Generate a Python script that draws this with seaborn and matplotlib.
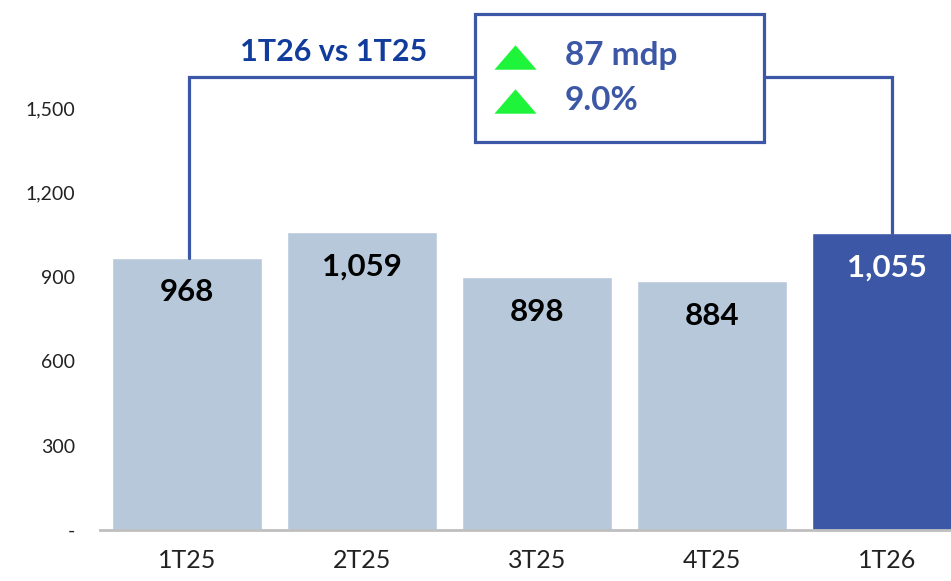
import pandas as pd
import numpy as np
import matplotlib.pyplot as plt
import seaborn as sns
from matplotlib.patches import Rectangle

# Data
quarters = ['1T25', '2T25', '3T25', '4T25', '1T26']
values = [968, 1059, 898, 884, 1055]
bar_colors = ['#B6C8DA', '#B6C8DA', '#B6C8DA', '#B6C8DA', '#3B57A6']
label_colors = ['black', 'black', 'black', 'black', 'white']
diff_text = '87 mdp'
pct_text = '9.0%'
compare_text = '1T26 vs 1T25'

blue = '#3B57A6'
df = pd.DataFrame({'quarter': quarters, 'value': values})

sns.set_theme(style='white')
plt.rcParams['font.family'] = ['Lato', 'DejaVu Sans']

fig = plt.figure(figsize=(9.51, 5.81), dpi=100)
ax = fig.add_axes([100 / 951, 51 / 581, 851 / 951, 530 / 581])

sns.barplot(data=df, x='quarter', y='value', hue='quarter', palette=bar_colors,
            width=0.86, saturation=1, legend=False, ax=ax)

ax.set_xlim(-0.497, 4.366)
ax.set_ylim(0, 1884)
ax.set_yticks([0, 300, 600, 900, 1200, 1500])
ax.set_yticklabels(['-', '300', '600', '900', '1,200', '1,500'])
ax.tick_params(axis='y', labelsize=14, pad=18, length=0, labelcolor='#222222')
ax.tick_params(axis='x', labelsize=18, pad=14, length=0, labelcolor='#222222')
ax.set_xlabel('')
ax.set_ylabel('')
for s in ['top', 'right', 'left']:
    ax.spines[s].set_visible(False)
ax.spines['bottom'].set_color('#BFBFBF')
ax.spines['bottom'].set_linewidth(2)

# value labels inside bars
for i, (v, c) in enumerate(zip(values, label_colors)):
    ax.annotate(f'{v:,}', (i, v), xytext=(0, -25), textcoords='offset points',
                ha='center', va='center', fontsize=22.5, fontweight='bold', color=c)

# comparison bracket
top = 1610
ax.plot([0.01, 0.01, 4.03, 4.03], [values[0], top, top, values[4]],
        color=blue, lw=2.3, solid_joinstyle='miter', clip_on=False, zorder=3)
ax.text(0.84, 1700, compare_text, ha='center', va='center', fontsize=22,
        fontweight='bold', color='#123C9C')

box = Rectangle((1.646, 1379), 1.654, 455, facecolor='white', edgecolor=blue,
                lw=2.3, clip_on=False, zorder=4)
ax.add_patch(box)
tri = [(-1, -0.58), (1, -0.58), (0, 0.58), (-1, -0.58)]
ax.scatter([1.874, 1.874], [1683, 1525], marker=tri, s=920, color='#1EF53A',
           linewidths=0, zorder=5, clip_on=False)
ax.text(2.16, 1685, diff_text, ha='left', va='center', fontsize=24,
        fontweight='bold', color=blue, zorder=5)
ax.text(2.16, 1527, pct_text, ha='left', va='center', fontsize=24,
        fontweight='bold', color=blue, zorder=5)

fig.savefig('out.png', dpi=100)
